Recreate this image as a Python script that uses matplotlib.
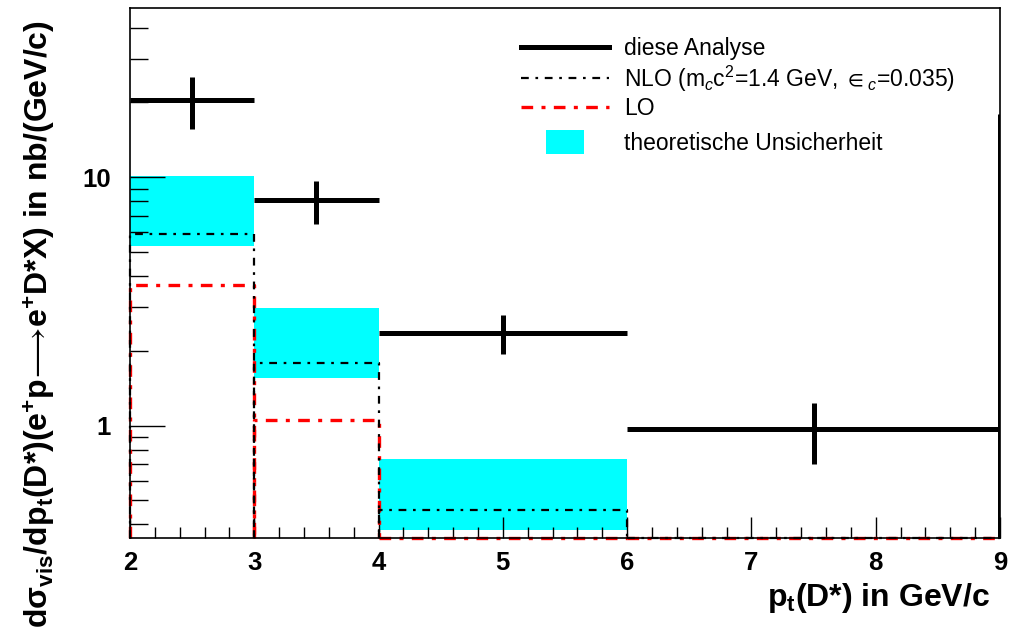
import matplotlib
matplotlib.use("Agg")
import numpy as np
import matplotlib.pyplot as plt
from matplotlib.lines import Line2D
from matplotlib.ticker import LogLocator, NullFormatter, FixedLocator, FixedFormatter, MultipleLocator

plt.rcParams["font.family"] = ["Liberation Sans", "DejaVu Sans"]
plt.rcParams["mathtext.fontset"] = "custom"
plt.rcParams["mathtext.rm"] = "Liberation Sans"
plt.rcParams["mathtext.it"] = "Liberation Sans:italic"
plt.rcParams["mathtext.bf"] = "Liberation Sans:bold"
plt.rcParams["mathtext.fallback"] = "stixsans"

# bins in p_t(D*)
bin_edges = [2, 3, 4, 6, 9]

# measured cross section with errors
data_vals = [20.4, 8.13, 2.36, 0.972]
data_up = [25.4, 9.66, 2.78, 1.235]
data_dn = [15.6, 6.50, 1.94, 0.703]
edge_top = 17.9  # last edge of the data histogram

# theory
nlo_vals = [5.89, 1.78, 0.456, 0.20]
nlo_hi = [10.1, 2.96, 0.736]
nlo_lo = [5.27, 1.56, 0.381]
lo_vals = [3.68, 1.05, 0.28, 0.07]

ymin, ymax = 0.3525, 48.0

fig = plt.figure(figsize=(10.09, 6.34), dpi=100)
ax = fig.add_axes([130 / 1009, 1 - 538 / 634, 870 / 1009, 530 / 634])
ax.set_yscale("log")
ax.set_xlim(2, 9)
ax.set_ylim(ymin, ymax)

edges = np.array(bin_edges, dtype=float)
lo_e, hi_e = edges[:-1], edges[1:]
centers = (lo_e + hi_e) / 2

# uncertainty band
for i in range(len(nlo_hi)):
    ax.fill_between([lo_e[i], hi_e[i]], nlo_lo[i], nlo_hi[i], color="#00ffff", lw=0, zorder=1)

# theory histograms, each bin as an open box from the bottom
nlo_c = np.maximum(nlo_vals, ymin)
lo_c = np.maximum(lo_vals, ymin)
lo_dash = (3.5, 2.5, 1.2, 2.5)
nlo_dash = (3.5, 3, 1.2, 3)
for i in range(len(lo_e)):
    xs = [lo_e[i], lo_e[i], hi_e[i], hi_e[i]]
    ax.plot(xs, [ymin, lo_c[i], lo_c[i], ymin], color="red", lw=2.4,
            dashes=lo_dash, zorder=2, clip_on=False)
    ax.plot(xs, [ymin, nlo_c[i], nlo_c[i], ymin], color="black", lw=1.6,
            dashes=nlo_dash, zorder=3, clip_on=False)

# data
vals = np.array(data_vals)
yerr = [vals - np.array(data_dn), np.array(data_up) - vals]
ax.errorbar(centers, vals, xerr=(hi_e - lo_e) / 2, yerr=yerr, fmt="none",
            ecolor="black", elinewidth=3.6, capsize=0, zorder=4)
ax.vlines(edges[-1], ymin, edge_top, color="black", lw=3.6, zorder=4)

# axes styling
for s in ax.spines.values():
    s.set_linewidth(1.2)
ax.xaxis.set_major_locator(MultipleLocator(1))
ax.xaxis.set_minor_locator(MultipleLocator(0.2))
ax.yaxis.set_major_locator(FixedLocator([1, 10]))
ax.yaxis.set_major_formatter(FixedFormatter(["1", "10"]))
ax.yaxis.set_minor_locator(LogLocator(base=10, subs=np.arange(2, 10)))
ax.yaxis.set_minor_formatter(NullFormatter())
ax.tick_params(axis="x", which="major", direction="in", length=15, width=1, pad=9,
               labelsize=18.5, top=False)
ax.tick_params(axis="x", which="minor", direction="in", length=8, width=1, top=False)
ax.tick_params(axis="y", which="major", direction="in", length=25, width=1, pad=14,
               labelsize=18.5, right=False)
ax.tick_params(axis="y", which="minor", direction="in", length=13, width=1, right=False)
for lab in ax.get_xticklabels() + ax.get_yticklabels():
    lab.set_fontweight("bold")

fig.text(990 / 1009, 1 - 598 / 634, r"p$_{\mathbf{t}}$(D*) in GeV/c", ha="right",
         va="center", fontsize=23, fontweight="bold")
fig.text(40 / 1009, 1 - 20 / 634,
         r"d$\mathbf{\sigma}_{\mathbf{vis}}$/dp$_{\mathbf{t}}$(D*)(e$^{\mathbf{+}}$p"
         r"$\!\longrightarrow\!$e$^{\mathbf{+}}$D*X) in nb/(GeV/c)",
         rotation=90, ha="center", va="top", fontsize=23, fontweight="bold")

rect = [(-1, -0.6), (1, -0.6), (1, 0.6), (-1, 0.6), (-1, -0.6)]
handles = [
    Line2D([], [], color="black", lw=3.6),
    Line2D([], [], color="black", lw=1.6, dashes=nlo_dash),
    Line2D([], [], color="red", lw=2.4, dashes=lo_dash),
]
labels = [
    "diese Analyse",
    r"NLO (m$_c$c$^2$=1.4 GeV, ${\in}_c$=0.035)",
    "LO",
]
leg_kw = dict(frameon=False, fontsize=16.5, handlelength=3.85, handletextpad=0.65,
              labelspacing=0.15, borderpad=0, loc="upper left")
leg1 = ax.legend(handles, labels, bbox_to_anchor=(0.4365, 0.967), **leg_kw)
ax.add_artist(leg1)
band_handle = Line2D([], [], color="#00ffff", marker=rect, markersize=28,
                     markeredgewidth=0, linestyle="none")
ax.legend([band_handle], ["theoretische Unsicherheit"], bbox_to_anchor=(0.4365, 0.787),
          **leg_kw)

fig.savefig("out.png", dpi=100)
